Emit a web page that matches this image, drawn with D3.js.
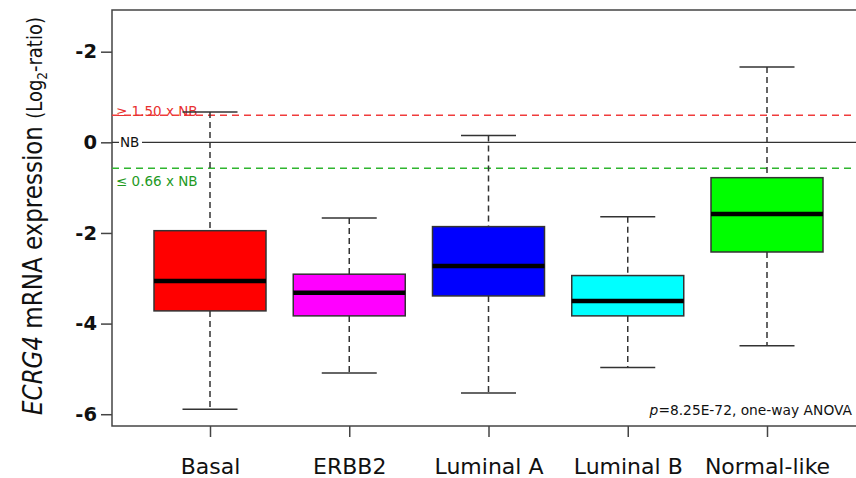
<!DOCTYPE html>
<html><head><meta charset="utf-8">
<script src="https://cdn.jsdelivr.net/npm/d3@7"></script>
<style>body{margin:0;background:#fff;} svg{display:block;font-family:"DejaVu Sans",Verdana,sans-serif;}</style>
</head><body>
<svg id="c" width="856" height="478"></svg>
<script>
const categories = ["Basal","ERBB2","Luminal A","Luminal B","Normal-like"];
const whiskerHigh = [0.67,-1.67,0.15,-1.64,1.66];
const q3 = [-1.95,-2.91,-1.86,-2.94,-0.78];
const medians = [-3.06,-3.32,-2.73,-3.50,-1.58];
const q1 = [-3.72,-3.83,-3.39,-3.83,-2.42];
const whiskerLow = [-5.89,-5.09,-5.53,-4.97,-4.49];
const colors = ["#ff0000","#ff00ff","#0000ff","#00ffff","#00ff00"];
const tickValues = [2,0,-2,-4,-6];
const tickLabels = ["-2","0","-2","-4","-6"];
const upperThreshold = 0.60, lowerThreshold = -0.57;

const svg = d3.select("#c");
const L = 112, R = 862, T = 10, B = 426;
const y = d3.scaleLinear().domain([-6.26, 2.92]).range([B, T]);
const x = d3.scalePoint().domain(categories).range([210, 767]);
const boxW = 112, capW = 55;

// frame
svg.append("rect").attr("x",L).attr("y",T).attr("width",R-L).attr("height",B-T)
  .attr("fill","none").attr("stroke","#444").attr("stroke-width",1.5);

// reference lines
svg.append("line").attr("x1",L).attr("x2",R).attr("y1",y(upperThreshold)).attr("y2",y(upperThreshold))
  .attr("stroke","#f03c3c").attr("stroke-width",1.5).attr("stroke-dasharray","7,5");
svg.append("line").attr("x1",L).attr("x2",R).attr("y1",y(lowerThreshold)).attr("y2",y(lowerThreshold))
  .attr("stroke","#2fb52f").attr("stroke-width",1.5).attr("stroke-dasharray","7,5");
svg.append("line").attr("x1",L).attr("x2",R).attr("y1",y(0)).attr("y2",y(0))
  .attr("stroke","#333").attr("stroke-width",1.3);
svg.append("rect").attr("x",119).attr("y",y(0)-8).attr("width",23).attr("height",16).attr("fill","#fff");
svg.append("text").attr("x",120).attr("y",y(0)+5).attr("font-size",13.5).attr("fill","#111").text("NB");
svg.append("text").attr("x",116).attr("y",y(upperThreshold)+0.5).attr("font-size",13.5).attr("fill","#e8302f").text("≥ 1.50 x NB");
svg.append("text").attr("x",116).attr("y",y(lowerThreshold)+18).attr("font-size",13.5).attr("fill","#1f9a1f").text("≤ 0.66 x NB");

// boxes
const data = categories.map((c,i)=>({c,hi:whiskerHigh[i],q3:q3[i],med:medians[i],q1:q1[i],lo:whiskerLow[i],col:colors[i]}));
const g = svg.selectAll("g.box").data(data).join("g").attr("class","box");
g.append("line").attr("x1",d=>x(d.c)).attr("x2",d=>x(d.c)).attr("y1",d=>y(d.hi)).attr("y2",d=>y(d.q3))
  .attr("stroke","#333").attr("stroke-width",1.5).attr("stroke-dasharray","6,4");
g.append("line").attr("x1",d=>x(d.c)).attr("x2",d=>x(d.c)).attr("y1",d=>y(d.q1)).attr("y2",d=>y(d.lo))
  .attr("stroke","#333").attr("stroke-width",1.5).attr("stroke-dasharray","6,4");
g.append("line").attr("x1",d=>x(d.c)-capW/2).attr("x2",d=>x(d.c)+capW/2).attr("y1",d=>y(d.hi)).attr("y2",d=>y(d.hi))
  .attr("stroke","#333").attr("stroke-width",1.5);
g.append("line").attr("x1",d=>x(d.c)-capW/2).attr("x2",d=>x(d.c)+capW/2).attr("y1",d=>y(d.lo)).attr("y2",d=>y(d.lo))
  .attr("stroke","#333").attr("stroke-width",1.5);
g.append("rect").attr("x",d=>x(d.c)-boxW/2).attr("width",boxW).attr("y",d=>y(d.q3)).attr("height",d=>y(d.q1)-y(d.q3))
  .attr("fill",d=>d.col).attr("stroke","#333").attr("stroke-width",1.5);
g.append("line").attr("x1",d=>x(d.c)-boxW/2).attr("x2",d=>x(d.c)+boxW/2).attr("y1",d=>y(d.med)).attr("y2",d=>y(d.med))
  .attr("stroke","#000").attr("stroke-width",4.5);

// y axis
const yAxis = d3.axisLeft(y).tickValues(tickValues).tickSize(11).tickPadding(4)
  .tickFormat((d,i)=>tickLabels[i]);
const ya = svg.append("g").attr("transform",`translate(${L},0)`).call(yAxis);
ya.select(".domain").remove();
ya.selectAll(".tick line").attr("stroke","#444").attr("stroke-width",1.5);
ya.selectAll(".tick text").attr("font-size",19.5).attr("font-weight","bold").attr("fill","#111")
  .attr("font-family","'DejaVu Sans',Verdana,sans-serif");

// x axis
const xAxis = d3.axisBottom(x).tickSize(11);
const xa = svg.append("g").attr("transform",`translate(0,${B})`).call(xAxis);
xa.select(".domain").remove();
xa.selectAll(".tick line").attr("stroke","#444").attr("stroke-width",1.5);
xa.selectAll(".tick text").attr("font-size",22).attr("fill","#111").attr("y",48).attr("dy",0)
  .attr("font-family","'DejaVu Sans',Verdana,sans-serif");

// y title
const t = svg.append("text").attr("transform","translate(42,216) rotate(-90) scale(1,1.15)").attr("text-anchor","middle")
  .attr("font-size",23).attr("fill","#111");
t.append("tspan").attr("font-style","italic").text("ECRG4");
t.append("tspan").text(" mRNA expression ");
t.append("tspan").attr("font-size",18).text("(Log");
t.append("tspan").attr("font-size",12).attr("dy",4).text("2");
t.append("tspan").attr("font-size",18).attr("dy",-4).text("-ratio)");

// p-value annotation
const p = svg.append("text").attr("x",852).attr("y",415).attr("text-anchor","end").attr("font-size",13.8).attr("fill","#111");
p.append("tspan").attr("font-style","italic").text("p");
p.append("tspan").text("=8.25E-72, one-way ANOVA");
</script>
</body></html>
